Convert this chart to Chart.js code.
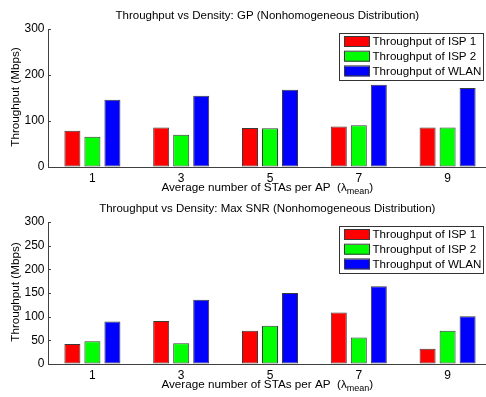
<!DOCTYPE html>
<html>
<head>
<meta charset="utf-8">
<script src="https://cdn.jsdelivr.net/npm/chart.js@4/dist/chart.umd.min.js"></script>
<style>
  html, body { margin: 0; padding: 0; background: #fff; overflow: hidden; }
  #wrap { position: relative; width: 486px; height: 397px; overflow: hidden; background: #fff; }
  canvas { position: absolute; left: 0; }
</style>
</head>
<body>
<div id="wrap">
  <canvas id="c1" width="492" height="200" style="top:0px;width:492px;height:200px"></canvas>
  <canvas id="c2" width="492" height="197" style="top:200px;width:492px;height:197px"></canvas>
</div>
<script>
// ---------- data ----------
const categories = ['1', '3', '5', '7', '9'];
const seriesLabels = ['Throughput of ISP 1', 'Throughput of ISP 2', 'Throughput of WLAN'];
const seriesColors = ['#ff0000', '#00ff00', '#0000ff'];

const gpIsp1 = [79, 86, 85, 88, 86];
const gpIsp2 = [66, 70, 84, 91, 86];
const gpWlan = [146, 155, 168, 179, 172];

const snrIsp1 = [42, 91, 70, 109, 32];
const snrIsp2 = [48, 44, 81, 56, 70];
const snrWlan = [90, 136, 150, 164, 101];

const gpTicks = [0, 100, 200, 300];
const snrTicks = [0, 50, 100, 150, 200, 250, 300];

const titleGP = 'Throughput vs Density: GP (Nonhomogeneous Distribution)';
const titleSNR = 'Throughput vs Density: Max SNR (Nonhomogeneous Distribution)';
const yTitle = 'Throughput (Mbps)';
const xTitleMain = 'Average number of STAs per AP  (\u03BB';
const xTitleSub = 'mean';
const xTitleEnd = ')';

// ---------- styling ----------
const FAM = '"Liberation Sans", Arial, Helvetica, sans-serif';
const FS_TITLE = 11.5;
const FS_LABEL = 11.7;
const FS_TICK = 12;
const FS_LEG = 11.6;
const AXIS_COLOR = '#404040';
const EDGE_COLOR = '#3a3a3a';

const decor = {
  id: 'decor',
  afterDraw(chart, args, o) {
    const ctx = chart.ctx;
    const ca = chart.chartArea;
    const cx = 267.3;
    ctx.save();
    ctx.fillStyle = '#000';
    ctx.font = FS_TITLE + 'px ' + FAM;
    ctx.textAlign = 'center';
    ctx.textBaseline = 'middle';
    // title
    ctx.fillText(o.title, cx, o.titleY);
    // y title
    ctx.font = FS_LABEL + 'px ' + FAM;
    ctx.save();
    ctx.translate(15.3, (ca.top + ca.bottom) / 2 - 1);
    ctx.rotate(-Math.PI / 2);
    ctx.fillText(yTitle, 0, 0);
    ctx.restore();
    // x title with subscript
    ctx.textAlign = 'left';
    const mainFont = FS_LABEL + 'px ' + FAM;
    const subFont = '9px ' + FAM;
    ctx.font = mainFont;
    const w1 = ctx.measureText(xTitleMain).width;
    ctx.font = subFont;
    const w2 = ctx.measureText(xTitleSub).width;
    ctx.font = mainFont;
    const w3 = ctx.measureText(xTitleEnd).width;
    let x0 = cx - (w1 + w2 + w3) / 2;
    const ty = ca.bottom + 21;
    ctx.fillText(xTitleMain, x0, ty);
    ctx.font = subFont;
    ctx.fillText(xTitleSub, x0 + w1, ty + 4);
    ctx.font = mainFont;
    ctx.fillText(xTitleEnd, x0 + w1 + w2, ty);
    // inward y ticks
    const ys = chart.scales.y;
    ctx.strokeStyle = AXIS_COLOR;
    ctx.lineWidth = 1;
    ys.ticks.forEach(t => {
      const py = Math.round(ys.getPixelForValue(t.value)) + 0.5;
      ctx.beginPath();
      ctx.moveTo(ca.left, py);
      ctx.lineTo(ca.left + 3, py);
      ctx.stroke();
    });
    // legend box
    const bx = 339.5, by = ca.top + 4.5, bw = 144, bh = 47;
    ctx.fillStyle = '#fff';
    ctx.fillRect(bx, by, bw, bh);
    ctx.strokeStyle = '#333';
    ctx.strokeRect(bx, by, bw, bh);
    ctx.font = FS_LEG + 'px ' + FAM;
    chart.data.datasets.forEach((ds, i) => {
      const ry = by + 3.5 + i * 14.7;
      ctx.fillStyle = ds.backgroundColor;
      ctx.fillRect(345, ry, 25, 10);
      ctx.strokeStyle = EDGE_COLOR;
      ctx.strokeRect(344.5, ry - 0.5, 25, 10);
      ctx.fillStyle = '#000';
      ctx.textAlign = 'left';
      ctx.textBaseline = 'middle';
      ctx.fillText(ds.label, 372.5, ry + 5);
    });
    ctx.restore();
  }
};

function makeChart(id, s1, s2, s3, ticks, title, titleY, padTop, xHeight) {
  const series = [s1, s2, s3];
  const step = ticks[1] - ticks[0];
  return new Chart(document.getElementById(id), {
    type: 'bar',
    data: {
      labels: categories,
      datasets: series.map((d, i) => ({
        label: seriesLabels[i],
        data: d,
        backgroundColor: seriesColors[i],
        borderColor: EDGE_COLOR,
        borderWidth: 1,
        borderSkipped: false,
        barPercentage: 0.8,
        categoryPercentage: 0.676
      }))
    },
    options: {
      responsive: false,
      animation: false,
      devicePixelRatio: 1,
      layout: { padding: { left: 0, right: 0, top: padTop, bottom: 0 } },
      plugins: {
        legend: { display: false },
        title: { display: false },
        tooltip: { enabled: false },
        decor: { title: title, titleY: titleY }
      },
      scales: {
        x: {
          offset: true,
          grid: { display: true, drawOnChartArea: false, drawTicks: false },
          border: { display: true, color: AXIS_COLOR, width: 1 },
          ticks: { color: '#000', font: { family: FAM, size: FS_TICK }, padding: 4, maxRotation: 0 },
          afterFit(s) { s.height = xHeight; }
        },
        y: {
          min: ticks[0],
          max: ticks[ticks.length - 1],
          afterBuildTicks(s) { s.ticks = ticks.map(v => ({ value: v })); },
          grid: { display: true, drawOnChartArea: false, drawTicks: false },
          border: { display: true, color: AXIS_COLOR, width: 1 },
          ticks: { stepSize: step, color: '#000', font: { family: FAM, size: FS_TICK }, padding: 3.5 },
          afterFit(s) { s.width = 48; }
        }
      }
    },
    plugins: [decor]
  });
}

makeChart('c1', gpIsp1, gpIsp2, gpWlan, gpTicks, titleGP, 15.7, 29, 33);
makeChart('c2', snrIsp1, snrIsp2, snrWlan, snrTicks, titleSNR, 9, 22, 33);
</script>
</body>
</html>
